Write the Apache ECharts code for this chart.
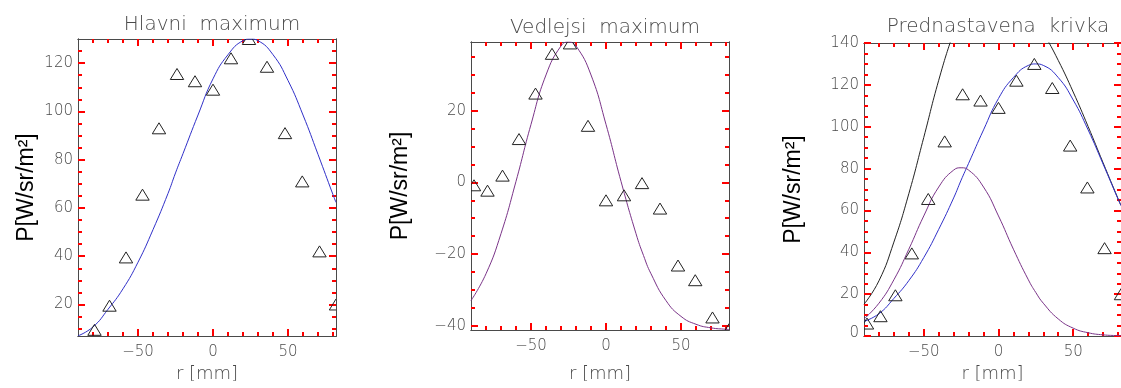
<!DOCTYPE html>
<html>
<head>
<meta charset="utf-8">
<script src="https://cdn.jsdelivr.net/npm/echarts@6/dist/echarts.min.js"></script>
<style>
  html, body { margin: 0; padding: 0; background: #ffffff; }
  #chart { width: 1121px; height: 388px; }
</style>
</head>
<body>
<div id="chart"></div>
<script>
// Measurement positions r [mm]
const rPos = [-88, -79, -69, -58, -47, -36, -24, -12, 0, 12, 24, 36, 48, 59.5, 71, 82];
// Measured power P [W/sr/m^2]
const pMeasured = [6, 9.5, 19.5, 39.5, 65.5, 93, 115.5, 112.5, 109, 122, 130, 118.5, 91, 71, 42, 20];
// Residual left after removing the main maximum
const pResidual = [-0.8, -2.3, 1.9, 12.1, 24.8, 35.9, 38.8, 15.8, -5, -3.6, -0.2, -7.3, -23.2, -27.3, -37.7, -41];

// Sample positions of the fitted curves
const curveR = [-90, -80, -70, -60, -50, -40, -30, -25, -20, -10, 0, 10, 20, 25, 30, 40, 50, 60, 70, 80, 82];
// Main maximum fit
const mainFit = [7, 10.7, 18, 26.5, 37.5, 51, 66, 74.5, 82.5, 98.5, 113.5, 123.5, 129.3, 130, 129.3, 123.5, 112.8, 98.5, 82.2, 65.5, 62.3];
// Secondary maximum fit (on the residual)
const sideFit = [-33.0, -25.5, -14.3, 0.3, 16.2, 30.0, 38.1, 39.2, 38.1, 30.0, 16.2, 0.3, -14.3, -20.4, -25.5, -33.0, -37.4, -39.6, -40.6, -41.0, -41.05];
// Secondary maximum lifted to the base line
const sideCurve = [8.2, 15.7, 26.9, 41.5, 57.4, 71.2, 79.3, 80.4, 79.3, 71.2, 57.4, 41.5, 26.9, 20.8, 15.7, 8.2, 3.8, 1.6, 0.6, 0.2, 0.15];
// Combined preset curve
const presetCurve = [15.2, 26.4, 44.9, 68.0, 94.9, 122.2, 145.3, 154.9, 161.8, 169.7, 170.9, 165.0, 156.2, 150.8, 145.0, 131.7, 116.6, 100.1, 82.8, 65.7, 62.45];

// Axis ticks
const xTickLabels = [-50, 0, 50];
const yTickLabels1 = [20, 40, 60, 80, 100, 120];
const yTickLabels2 = [-40, -20, 0, 20];
const yTickLabels3 = [0, 20, 40, 60, 80, 100, 120, 140];

const titles = ['Hlavni  maximum', 'Vedlejsi  maximum', 'Prednastavena  krivka'];
const xName = 'r [mm]';
const yName = 'P[W/sr/m\u00B2]';

const X_MIN = -90, X_MAX = 82;
const AXIS_COLOR = '#4a4a4a';
const TICK_COLOR = '#ff0000';
const TEXT_COLOR = '#4a4a4a';
const LIGHT_FONT = 'DejaVu Sans';
const MAJOR_LEN = 7, MINOR_LEN = 4;

function stepTicks(from, to, step, skip) {
  const out = [];
  for (let v = from; v <= to + 1e-9; v += step) {
    if (skip.indexOf(v) < 0) out.push(v);
  }
  return out;
}

function fmt(v) {
  return String(v).replace('-', '\u2212');
}

function sideAxes(gridIndex, position, min, max, major, minor, label, nameOpts) {
  const majorAxis = Object.assign({
    type: 'value', gridIndex: gridIndex, position: position, min: min, max: max,
    splitLine: { show: false },
    axisLine: { show: true, onZero: false, lineStyle: { color: AXIS_COLOR, width: 1 } },
    axisTick: { show: true, inside: true, length: MAJOR_LEN, customValues: major,
                lineStyle: { color: TICK_COLOR, width: 2 } },
    axisLabel: label ? Object.assign({ show: true, customValues: major }, label) : { show: false }
  }, nameOpts || {});
  const minorAxis = {
    type: 'value', gridIndex: gridIndex, position: position, min: min, max: max,
    splitLine: { show: false },
    axisLine: { show: true, onZero: false, lineStyle: { color: AXIS_COLOR, width: 1 } },
    axisTick: { show: true, inside: true, length: MINOR_LEN, customValues: minor,
                lineStyle: { color: TICK_COLOR, width: 2 } },
    axisLabel: { show: false }
  };
  return [majorAxis, minorAxis];
}

const panels = [
  { grid: { left: 78, top: 39, width: 258, height: 302 }, yMin: 6.9, yMax: 130,
    yMajor: yTickLabels1, yMinor: stepTicks(10, 125, 5, yTickLabels1),
    yGap: 40, xGap: 24, titleTop: 10 },
  { grid: { left: 471, top: 42, width: 258, height: 301 }, yMin: -41.2, yMax: 39.2,
    yMajor: yTickLabels2, yMinor: stepTicks(-35, 35, 5, yTickLabels2),
    yGap: 59, xGap: 35, titleTop: 13 },
  { grid: { left: 864, top: 43, width: 258, height: 300 }, yMin: 0, yMax: 140,
    yMajor: yTickLabels3, yMinor: stepTicks(5, 135, 5, yTickLabels3),
    yGap: 59, xGap: 27, titleTop: 12 }
];

const xMinorTicks = stepTicks(-80, 80, 10, xTickLabels);
const AX_PER_PANEL = 4;

const grid = [], xAxis = [], yAxis = [], title = [];
panels.forEach(function (p, i) {
  grid.push(Object.assign({ containLabel: false }, p.grid));
  title.push({
    text: titles[i],
    left: p.grid.left + p.grid.width / 2,
    top: p.titleTop,
    textAlign: 'center',
    textStyle: { fontFamily: LIGHT_FONT, fontWeight: 200, fontSize: 20, color: TEXT_COLOR }
  });
  const xLabel = {
    margin: 9, fontFamily: LIGHT_FONT, fontWeight: 200, fontSize: 15, color: TEXT_COLOR,
    formatter: fmt
  };
  const xNameOpts = {
    name: xName, nameLocation: 'middle', nameGap: p.xGap,
    nameTextStyle: { fontFamily: LIGHT_FONT, fontWeight: 200, fontSize: 18, color: TEXT_COLOR }
  };
  sideAxes(i, 'bottom', X_MIN, X_MAX, xTickLabels, xMinorTicks, xLabel, xNameOpts).forEach(a => xAxis.push(a));
  sideAxes(i, 'top', X_MIN, X_MAX, xTickLabels, xMinorTicks, null, null).forEach(a => xAxis.push(a));

  const yLabel = {
    margin: 5, fontFamily: LIGHT_FONT, fontWeight: 200, fontSize: 15, color: TEXT_COLOR,
    formatter: function (v) { return (i === 2 && v === 0) ? '{lo|0}' : fmt(v); },
    rich: { lo: { padding: [0, 0, 6, 0], fontFamily: LIGHT_FONT, fontWeight: 200, fontSize: 15, color: TEXT_COLOR } }
  };
  const yNameOpts = {
    name: yName, nameLocation: 'middle', nameGap: p.yGap, nameRotate: 90,
    nameTextStyle: { fontFamily: 'Liberation Sans', fontSize: 23, color: '#000000' }
  };
  sideAxes(i, 'left', p.yMin, p.yMax, p.yMajor, p.yMinor, yLabel, yNameOpts).forEach(a => yAxis.push(a));
  sideAxes(i, 'right', p.yMin, p.yMax, p.yMajor, p.yMinor, null, null).forEach(a => yAxis.push(a));
});

function zip(xs, ys) {
  return xs.map(function (x, k) { return [x, ys[k]]; });
}

function curve(panel, ys, color) {
  return {
    type: 'line', xAxisIndex: panel * AX_PER_PANEL, yAxisIndex: panel * AX_PER_PANEL,
    data: zip(curveR, ys), smooth: true, showSymbol: false, clip: true,
    lineStyle: { color: color, width: 1 }, silent: true, z: 2
  };
}

function triangles(panel, ys) {
  const p = panels[panel];
  return {
    type: 'custom', xAxisIndex: panel * AX_PER_PANEL, yAxisIndex: panel * AX_PER_PANEL,
    data: zip(rPos, ys), clip: true, silent: true, z: 3,
    renderItem: function (params, api) {
      const x = api.value(0), y = api.value(1);
      if (x < X_MIN || x > X_MAX || y < p.yMin || y > p.yMax) return null;
      const c = api.coord([x, y]);
      return {
        type: 'polygon',
        shape: { points: [[c[0], c[1] - 5.5], [c[0] + 6.7, c[1] + 5.5], [c[0] - 6.7, c[1] + 5.5]] },
        style: { fill: 'none', stroke: '#222222', lineWidth: 1 }
      };
    }
  };
}

const BLUE = '#3030c8';
const PURPLE = '#7a3488';

const series = [
  curve(0, mainFit, BLUE),
  triangles(0, pMeasured),
  curve(1, sideFit, PURPLE),
  triangles(1, pResidual),
  curve(2, presetCurve, '#222222'),
  curve(2, mainFit, BLUE),
  curve(2, sideCurve, PURPLE),
  triangles(2, pMeasured)
];

const chart = echarts.init(document.getElementById('chart'));
chart.setOption({
  animation: false,
  backgroundColor: '#ffffff',
  title: title,
  grid: grid,
  xAxis: xAxis,
  yAxis: yAxis,
  series: series
});
</script>
</body>
</html>
